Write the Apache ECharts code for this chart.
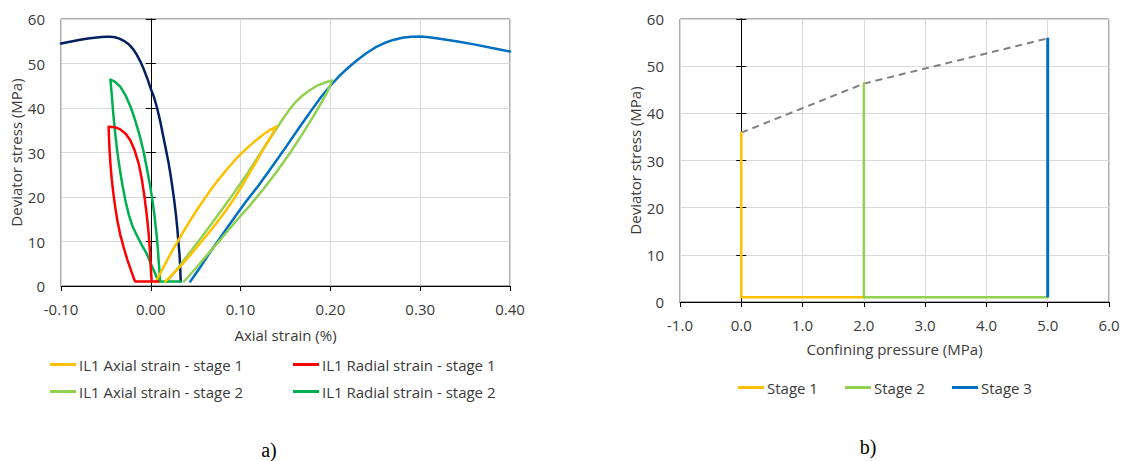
<!DOCTYPE html>
<html><head><meta charset="utf-8">
<script src="https://cdn.jsdelivr.net/npm/echarts@6/dist/echarts.min.js"></script>
<style>html,body{margin:0;padding:0;background:#fff}#c{width:1125px;height:461px}</style>
</head><body><div id="c"></div>
<script>
// ---- tick values ----
const strainTicks = [-0.1, 0, 0.1, 0.2, 0.3, 0.4];
const pressureTicks = [-1, 0, 1, 2, 3, 4, 5, 6];
const stressTicks = [0, 10, 20, 30, 40, 50, 60];

// ---- chart a) : deviator stress vs strain ([strain %, stress MPa]) ----
const axialStage1 = [[0.006,1],[0.015,4.6],[0.025,8.3],[0.035,11.8],[0.045,15.1],[0.055,18.2],[0.065,21.1],[0.075,23.8],[0.085,26.3],
  [0.095,28.6],[0.105,30.6],[0.115,32.4],[0.125,34],[0.133,35.1],[0.14,35.9],
  [0.133,33.3],[0.125,30.6],[0.118,28.1],[0.110,25.4],[0.101,22.3],[0.092,19.4],[0.082,16.5],[0.073,14.1],[0.064,11.8],[0.055,9.6],
  [0.045,7.2],[0.036,5.1],[0.026,3],[0.016,1]];
const radialStage1 = [[0.001,1],[0.0,4],[-0.001,8],[-0.0025,12],[-0.0045,16],[-0.007,20],[-0.01,24],[-0.0135,27.5],[-0.018,30.5],[-0.023,32.8],
  [-0.028,34.2],[-0.034,35.2],[-0.04,35.7],[-0.047,35.8],
  [-0.0465,33],[-0.0458,30],[-0.0448,27],[-0.0435,24],[-0.0418,21],[-0.0397,17.8],[-0.037,14.5],[-0.034,11.5],[-0.03,8.5],[-0.026,5.8],
  [-0.022,3.5],[-0.0185,1.5],[-0.0174,1],[0.008,1]];
const axialStage2 = [[0.018,1],[0.03,4],[0.045,7.9],[0.06,11.9],[0.075,16],[0.09,20.2],[0.105,24.5],[0.12,29.2],[0.13,32.3],[0.14,35.4],
  [0.148,37.8],[0.155,39.8],[0.162,41.5],[0.169,42.8],[0.177,44],[0.186,45.1],[0.195,45.8],[0.202,46.2],
  [0.197,43.8],[0.19,41.2],[0.18,37.8],[0.168,33.9],[0.155,29.9],[0.14,25.6],[0.125,21.7],[0.11,18],[0.095,14.6],[0.08,11],
  [0.065,7.5],[0.05,4],[0.037,1]];
const radialStage2 = [[0.0103,1],[0.0098,3],[0.009,5],[0.0078,8.5],[0.0062,12],[0.0043,15.5],[0.002,19],[-0.0007,22.5],[-0.004,26],[-0.0078,30],
  [-0.012,33.5],[-0.017,37],[-0.022,40],[-0.028,42.8],[-0.034,44.8],[-0.04,45.9],[-0.045,46.4],
  [-0.0435,43],[-0.0423,40],[-0.041,37],[-0.0395,34],[-0.0378,31],[-0.0358,28],[-0.0335,25],[-0.031,22],[-0.028,19],[-0.0245,16],
  [-0.0205,13.5],[-0.0156,11.4],[-0.01,9.2],[-0.0044,7.2],[0.0005,4.8],[0.0048,2.8],[0.0085,1],[0.033,1]];
const axialStage3 = [[0.044,1],[0.055,4.2],[0.065,7.3],[0.075,10.2],[0.09,14.5],[0.105,18.7],[0.12,22.6],[0.135,26.8],[0.15,31.1],[0.165,35.5],
  [0.18,39.8],[0.19,42.6],[0.2,45],[0.21,47.2],[0.22,49.1],[0.23,50.8],[0.24,52.3],[0.25,53.6],[0.26,54.6],[0.27,55.3],[0.28,55.8],
  [0.29,56],[0.3,56.05],[0.31,55.9],[0.32,55.6],[0.34,55],[0.36,54.3],[0.38,53.5],[0.4,52.7]];
const radialStage3 = [[0.0333,1],[0.0328,4],[0.032,7],[0.0307,10],[0.0295,13],[0.028,16],[0.0262,19],[0.0242,22],[0.022,25],[0.0195,28],
  [0.0165,31],[0.0135,34],[0.0105,37],[0.007,40],[0.0035,42.5],[0,44.3],[-0.004,46.7],[-0.008,48.8],[-0.012,50.6],[-0.016,52.1],
  [-0.02,53.3],[-0.025,54.4],[-0.03,55.1],[-0.035,55.6],[-0.04,55.9],[-0.045,56],[-0.05,56],[-0.055,55.95],[-0.06,55.85],
  [-0.07,55.6],[-0.08,55.3],[-0.09,54.9],[-0.1,54.5]];

// ---- chart b) : deviator stress vs confining pressure ([MPa, MPa]) ----
const stage1 = [[0,35.9],[0,1],[2,1]];
const stage2 = [[2,46.3],[2,1],[5,1]];
const stage3 = [[5,1],[5,56]];
const peakEnvelope = [[0,35.9],[2,46.3],[5,55.9]];

const FONT = 'Open Sans';
const TXT = '#3a3a3a';
const GRIDC = '#d9d9d9';

function labelAxisY(gridIndex, nameGap) {
  return {
    type: 'value', gridIndex: gridIndex, position: 'left',
    min: stressTicks[0], max: stressTicks[stressTicks.length - 1], interval: stressTicks[1] - stressTicks[0],
    name: 'Deviator stress (MPa)', nameLocation: 'middle', nameGap: nameGap,
    nameTextStyle: { fontFamily: FONT, fontSize: 15, color: TXT },
    axisLine: { show: false, onZero: false }, axisTick: { show: false },
    axisLabel: { fontFamily: FONT, fontSize: 15, color: TXT, margin: 16 },
    splitLine: { show: true, lineStyle: { color: GRIDC, width: 1 } }
  };
}
function zeroAxisY(gridIndex, xIndex, inside) {
  return {
    type: 'value', gridIndex: gridIndex, position: 'left',
    min: stressTicks[0], max: stressTicks[stressTicks.length - 1], interval: stressTicks[1] - stressTicks[0],
    axisLine: { show: true, onZero: true, onZeroAxisIndex: xIndex, lineStyle: { color: '#000', width: 1 } },
    axisTick: { show: true, inside: inside, length: 5, lineStyle: { color: '#000', width: 1 } },
    axisLabel: { show: false }, splitLine: { show: false }
  };
}
function xAxisDef(gridIndex, ticks, digits, name, nameGap) {
  return {
    type: 'value', gridIndex: gridIndex, position: 'bottom',
    min: ticks[0], max: ticks[ticks.length - 1], interval: ticks[1] - ticks[0],
    name: name, nameLocation: 'middle', nameGap: nameGap,
    nameTextStyle: { fontFamily: FONT, fontSize: 15, color: TXT },
    axisLine: { show: true, onZero: false, lineStyle: { color: '#000', width: 1 } },
    axisTick: { show: true, inside: false, length: 5, lineStyle: { color: '#000', width: 1 } },
    axisLabel: { fontFamily: FONT, fontSize: 15, color: TXT, margin: 15,
      formatter: function (v) { return (Math.abs(v) < 1e-9 ? 0 : v).toFixed(digits); } },
    splitLine: { show: true, lineStyle: { color: GRIDC, width: 1 } }
  };
}
function lineSeries(name, data, color, xi, yi, extra) {
  return Object.assign({
    type: 'line', name: name, data: data, xAxisIndex: xi, yAxisIndex: yi,
    showSymbol: false, symbol: 'none', smooth: false, z: 3,
    lineStyle: { color: color, width: 2.5, join: 'round', cap: 'round' }, itemStyle: { color: color }
  }, extra || {});
}
function legendItem(name, left, top) {
  return {
    data: [name], left: left, top: top, padding: 0, icon: 'rect', itemWidth: 26, itemHeight: 3,
    selectedMode: false, textStyle: { fontFamily: FONT, fontSize: 15, color: TXT, padding: [0, 0, 0, -2] }
  };
}

const chart = echarts.init(document.getElementById('c'), null, { renderer: 'svg' });
chart.setOption({
  animation: false,
  backgroundColor: '#fff',
  grid: [
    { left: 61, top: 19, width: 449, height: 267, show: true, borderColor: '#595959', borderWidth: 1, backgroundColor: 'transparent', outerBoundsMode: 'none' },
    { left: 680, top: 19, width: 429, height: 283, show: true, borderColor: '#595959', borderWidth: 1, backgroundColor: 'transparent', outerBoundsMode: 'none' }
  ],
  xAxis: [
    xAxisDef(0, strainTicks, 2, 'Axial strain (%)', 41),
    xAxisDef(1, pressureTicks, 1, 'Confining pressure (MPa)', 39)
  ],
  yAxis: [
    labelAxisY(0, 34), zeroAxisY(0, 0, true), zeroAxisY(0, 0, false),
    labelAxisY(1, 37), zeroAxisY(1, 1, true), zeroAxisY(1, 1, false)
  ],
  legend: [
    legendItem('IL1 Axial strain - stage 1', 50, 357),
    legendItem('IL1 Radial strain - stage 1', 293, 357),
    legendItem('IL1 Axial strain - stage 2', 50, 384),
    legendItem('IL1 Radial strain - stage 2', 293, 384),
    legendItem('Stage 1', 738, 380),
    legendItem('Stage 2', 845, 380),
    legendItem('Stage 3', 952, 380)
  ],
  graphic: [
    { type: 'text', x: 269, y: 450, style: { text: 'a)', font: '20px "Liberation Serif"', fill: '#000', textAlign: 'center', textVerticalAlign: 'middle' } },
    { type: 'text', x: 868, y: 447, style: { text: 'b)', font: '20px "Liberation Serif"', fill: '#000', textAlign: 'center', textVerticalAlign: 'middle' } }
  ],
  series: [
    lineSeries('IL1 Axial strain - stage 3', axialStage3, '#0070C0', 0, 0),
    lineSeries('IL1 Radial strain - stage 3', radialStage3, '#002060', 0, 0),
    lineSeries('IL1 Axial strain - stage 2', axialStage2, '#92D050', 0, 0),
    lineSeries('IL1 Radial strain - stage 2', radialStage2, '#00B050', 0, 0),
    lineSeries('IL1 Axial strain - stage 1', axialStage1, '#FFC000', 0, 0),
    lineSeries('IL1 Radial strain - stage 1', radialStage1, '#FF0000', 0, 0),
    lineSeries('Peak envelope', peakEnvelope, '#808080', 1, 3, { lineStyle: { color: '#808080', width: 2, type: [7, 5] } }),
    lineSeries('Stage 1', stage1, '#FFC000', 1, 3),
    lineSeries('Stage 2', stage2, '#92D050', 1, 3),
    lineSeries('Stage 3', stage3, '#0070C0', 1, 3, { lineStyle: { color: '#0070C0', width: 3 } })
  ]
});
</script>
</body></html>
